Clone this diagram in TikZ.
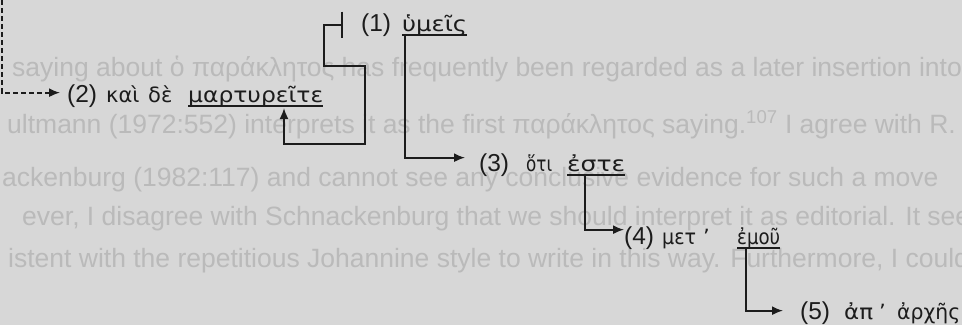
\documentclass[tikz,border=0pt]{standalone}
\usepackage{fontspec}
\usepackage{graphicx}
\setmainfont{Liberation Sans}
\newfontfamily\grk{DejaVu Sans}
\usetikzlibrary{arrows.meta,calc}
\definecolor{paper}{RGB}{215,215,215}
\definecolor{ink}{RGB}{28,28,28}
\definecolor{ghost}{RGB}{186,186,186}
% Greek word set to a given width, height unchanged
\newcommand{\gwide}[2]{\resizebox{#1}{\height}{#2}}
\tikzset{
  num/.style={anchor=base west, inner sep=0pt, font=\fontsize{24.5}{28}\selectfont, text=ink},
  gw/.style={anchor=base west, inner sep=0pt, font=\grk\fontsize{21}{25}\selectfont, text=ink},
  ghosttext/.style={anchor=base west, inner sep=0pt, font=\fontsize{26.5}{30}\selectfont, text=ghost},
  link/.style={draw=ink, line width=1.7pt, -{Latex[length=11pt,width=9pt]}},
  dashlink/.style={link, dash pattern=on 5pt off 3pt},
  uline/.style={draw=ink, line width=1.3pt},
}
\begin{document}
\begin{tikzpicture}[x=1pt,y=-1pt]
\fill[paper] (0,0) rectangle (962,325);
\useasboundingbox (0,0) rectangle (962,325);

% show-through of the facing page
\begin{scope}
  \clip (0,0) rectangle (962,325);
  \node[ghosttext] (ga) at (12,76) {saying about ὁ παράκλητος has frequently been regarded as a later insertion into the};
  \node[ghosttext] (gb) at (7,133) {ultmann (1972:552) interprets it as the first παράκλητος saying.\textsuperscript{107} I agree with R.};
  \node[ghosttext] (gc) at (2,186) {ackenburg (1982:117) and cannot see any conclusive evidence for such a move};
  \node[ghosttext] (gd) at (22,225) {ever, I disagree with Schnackenburg that we should interpret it as editorial. It seems};
  \node[ghosttext] (ge) at (8,267) {istent with the repetitious Johannine style to write in this way. Furthermore, I could};
\end{scope}

% clauses
\node[num] (n1) at (361,31) {(1)};
\node[gw]  (w1) at (402,31) {\gwide{65pt}{ὑμεῖς}};

\node[num] (n2) at (67,102) {(2)};
\node[gw]  (k2) at (106,102) {καὶ};
\node[gw]  (d2) at (148,102) {δὲ};
\node[gw]  (w2) at (188,102) {\gwide{135pt}{μαρτυρεῖτε}};

\node[num] (n3) at (479,171) {(3)};
\node[gw]  (o3) at (526,171) {\gwide{26pt}{ὅτι}};
\node[gw]  (w3) at (567,171) {\gwide{58pt}{ἐστε}};

\node[num] (n4) at (624,244) {(4)};
\node[gw]  (m4) at (662,244) {\gwide{34pt}{μετ}\hspace{7pt}’};
\node[gw]  (w4) at (737,244) {\gwide{43pt}{ἐμοῦ}};

\node[num] (n5) at (800,319) {(5)};
\node[gw]  (a5) at (844,319) {\gwide{29pt}{ἀπ}\hspace{6pt}’};
\node[gw]  (w5) at (897,319) {\gwide{63pt}{ἀρχῆς}};

% underlined words
\foreach \w in {w1,w2,w3,w4}
  \draw[uline] ([yshift=-4pt]\w.base west) -- ([yshift=-4pt]\w.base east);

% connectors
\coordinate (top) at (2,0);
\draw[dashlink, shorten >=7pt] (top) |- ([yshift=3pt]n2.west);

\draw[link, {Bar[width=26pt]}-{Latex[length=11pt,width=9pt]}]
  ([xshift=-18pt]n1.west) -- ++(-19,0) |- (365,66) |- (284,144)
  -- ([xshift=96pt,yshift=-6pt]w2.base west);

\draw[link, shorten >=14pt] ([xshift=3pt,yshift=-4pt]w1.base west) |- ([yshift=7pt]n3.west);
\draw[link] ([xshift=18pt,yshift=-5pt]w3.base west) |- ([yshift=8pt]n4.west);
\draw[link, shorten >=17pt] ([xshift=9pt,yshift=-5pt]w4.base west) |- ([yshift=2pt]n5.west);
\end{tikzpicture}
\end{document}
